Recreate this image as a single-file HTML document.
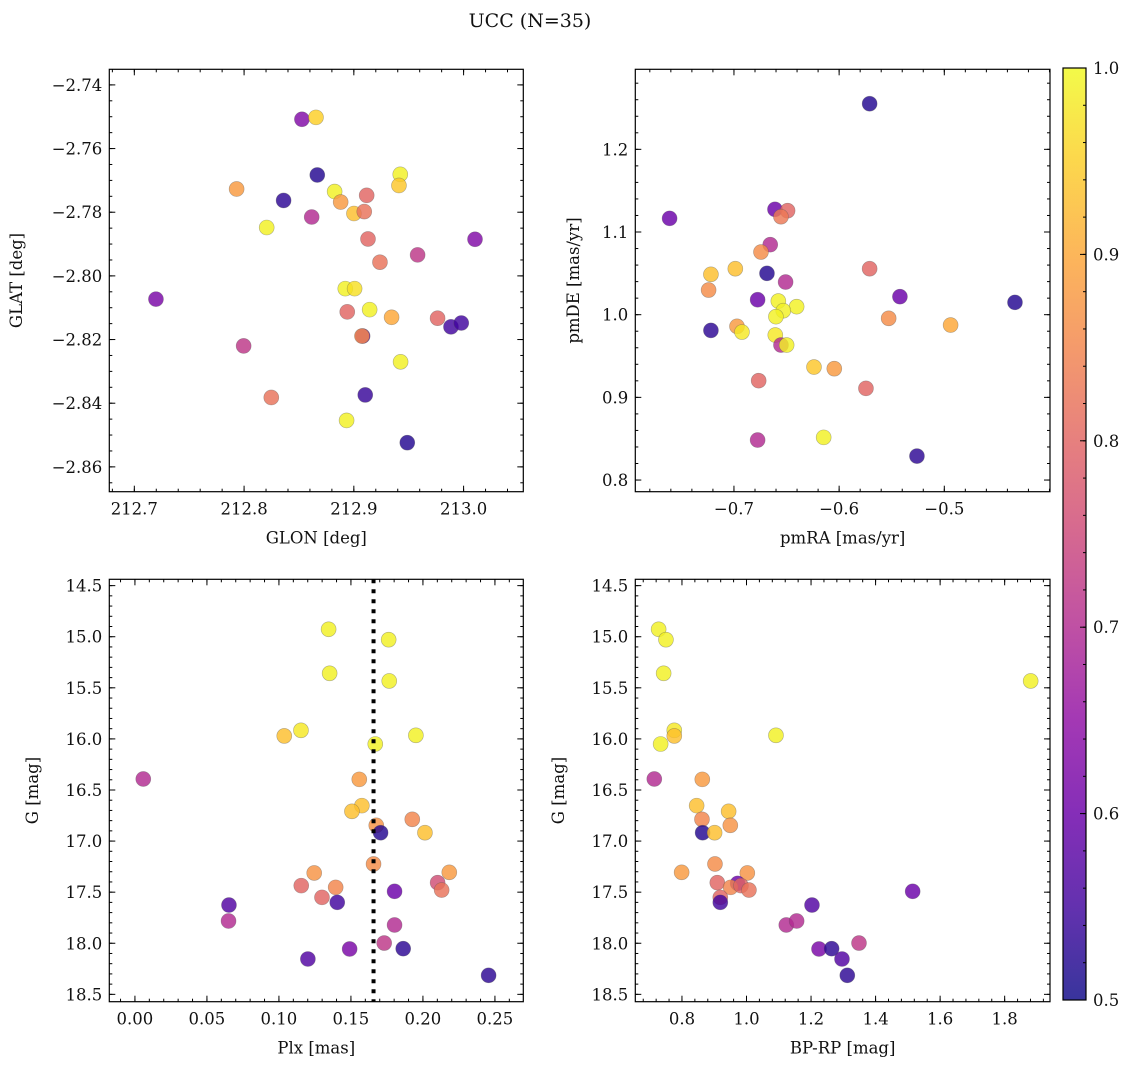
<!DOCTYPE html>
<html><head><meta charset="utf-8"><style>
body{margin:0;background:#fff}
svg text{font-family:"DejaVu Serif","Liberation Serif",serif;fill:#111}
</style></head><body>
<svg id="fig" width="1136" height="1068" viewBox="0 0 1136 1068" xmlns="http://www.w3.org/2000/svg">
<text x="530" y="27" font-size="19" text-anchor="middle">UCC (N=35)</text>
</svg>
<script>
// ---- data ----
const glon=[212.8527,212.8655,212.8667,212.7932,212.8360,212.8616,212.8206,212.8825,212.8880,212.9001,212.9095,212.9117,212.9129,212.9423,212.9411,212.9238,212.9581,213.0104,212.7197,212.8922,212.9007,212.8940,212.9144,212.9344,212.9763,212.9885,212.9979,212.9080,212.9074,212.7996,212.9426,212.8248,212.9104,212.8934,212.9487];
const glat=[-2.7508,-2.7502,-2.7683,-2.7727,-2.7763,-2.7815,-2.7848,-2.7735,-2.7768,-2.7804,-2.7798,-2.7747,-2.7884,-2.7681,-2.7716,-2.7957,-2.7934,-2.7885,-2.8073,-2.8040,-2.8040,-2.8113,-2.8106,-2.8130,-2.8133,-2.8160,-2.8148,-2.8189,-2.8189,-2.8220,-2.8270,-2.8382,-2.8374,-2.8454,-2.8524];
const probA=[0.63,0.95,0.52,0.88,0.53,0.7,0.99,0.99,0.88,0.93,0.82,0.8,0.8,0.99,0.94,0.82,0.72,0.63,0.62,0.99,0.97,0.8,0.99,0.9,0.8,0.55,0.55,0.6,0.86,0.72,0.99,0.82,0.54,0.99,0.52];
const pmra=[-0.7612,-0.6610,-0.6490,-0.6553,-0.6655,-0.6743,-0.7219,-0.6987,-0.6686,-0.7241,-0.6509,-0.6775,-0.6578,-0.6404,-0.6531,-0.6601,-0.7219,-0.6971,-0.6924,-0.6607,-0.6553,-0.6499,-0.5710,-0.5710,-0.5422,-0.4328,-0.5529,-0.4940,-0.6239,-0.6046,-0.6765,-0.5745,-0.6775,-0.6147,-0.5260];
const pmde=[1.1165,1.1274,1.1258,1.1185,1.0847,1.0758,1.0488,1.0556,1.0500,1.0298,1.0395,1.0181,1.0165,1.0097,1.0048,0.9976,0.9810,0.9859,0.9790,0.9754,0.9633,0.9633,1.2552,1.0556,1.0218,1.0149,0.9956,0.9875,0.9367,0.9347,0.9202,0.9109,0.8484,0.8516,0.8290];
const probB=[0.6,0.6,0.8,0.83,0.7,0.86,0.93,0.93,0.52,0.86,0.7,0.6,0.99,0.99,0.99,0.99,0.53,0.88,0.98,0.98,0.7,0.99,0.52,0.8,0.6,0.52,0.86,0.9,0.94,0.88,0.8,0.8,0.7,0.99,0.53];
const plx=[0.1345,0.1762,0.1352,0.1766,0.1153,0.1037,0.1951,0.1669,0.0058,0.1558,0.1576,0.1507,0.1926,0.1676,0.1706,0.2014,0.1657,0.1245,0.2183,0.1155,0.1394,0.1299,0.2102,0.2130,0.1803,0.0653,0.1405,0.0650,0.1803,0.1731,0.1491,0.1863,0.1201,0.2456];
const gmagC=[14.927,15.029,15.358,15.433,15.916,15.971,15.965,16.050,16.392,16.396,16.653,16.709,16.787,16.846,16.918,16.918,17.224,17.312,17.306,17.436,17.453,17.551,17.407,17.479,17.492,17.626,17.600,17.782,17.821,17.998,18.056,18.053,18.154,18.314];
const probC=[0.99,0.99,0.99,0.99,0.98,0.93,0.99,0.99,0.7,0.88,0.93,0.93,0.85,0.87,0.52,0.93,0.86,0.87,0.88,0.8,0.85,0.8,0.76,0.82,0.6,0.57,0.55,0.7,0.7,0.72,0.62,0.53,0.57,0.53];
const bprp=[0.7277,0.7504,0.7432,1.8806,0.7762,0.7762,1.0913,0.7339,0.7143,0.8630,0.8455,0.9446,0.8620,0.9498,0.8640,0.9012,0.9023,1.0025,0.7990,0.9095,0.9725,0.9508,0.9829,1.0076,0.9188,0.9188,1.5149,1.2029,1.1233,1.1554,1.3486,1.2246,1.2638,1.2959,1.3124];
const gmagD=[14.927,15.029,15.358,15.433,15.916,15.971,15.965,16.050,16.392,16.396,16.653,16.709,16.787,16.846,16.918,16.918,17.224,17.312,17.306,17.407,17.414,17.453,17.436,17.479,17.551,17.600,17.492,17.626,17.821,17.782,17.998,18.056,18.053,18.154,18.314];
const probD=[0.99,0.99,0.99,0.99,0.98,0.93,0.99,0.99,0.7,0.88,0.93,0.93,0.85,0.87,0.52,0.93,0.86,0.87,0.88,0.8,0.6,0.85,0.8,0.82,0.8,0.55,0.6,0.57,0.7,0.7,0.72,0.62,0.53,0.57,0.53];
const plxLine=0.1657;
const cbTicks=[0.5,0.6,0.7,0.8,0.9,1.0];

const NS="http://www.w3.org/2000/svg";
const svg=document.getElementById('fig');
function mk(tag,attrs,parent){const e=document.createElementNS(NS,tag);for(const k in attrs)e.setAttribute(k,attrs[k]);(parent||svg).appendChild(e);return e;}
const stops=['#0d0887','#41049d','#6a00a8','#8f0da4','#b12a90','#cc4778','#e16462','#f2844b','#fca636','#fcce25','#f0f921'];
function hex(h){return [1,3,5].map(i=>parseInt(h.substr(i,2),16));}
function plasma(p){let t=Math.max(0,Math.min(1,(p-0.5)/0.5))*10;const i=Math.min(9,Math.floor(t));const f=t-i;const a=hex(stops[i]),b=hex(stops[i+1]);return 'rgb('+a.map((v,k)=>Math.round(v+(b[k]-v)*f)).join(',')+')';}

const FS=16.5;
function panel(cfg){
  const g=mk('g',{});
  
  
  const {L,R,T,B,x0,x1,y0,y1}=cfg;
  const sx=v=>L+(v-x0)/(x1-x0)*(R-L);
  const sy=v=>T+(v-y0)/(y1-y0)*(B-T);
  const pg=mk('g',{},g);
  
  
  cfg.xs.forEach((xv,i)=>{
    const c=mk('circle',{cx:sx(xv),cy:sy(cfg.ys[i]),r:7.5,fill:plasma(cfg.ps[i]),'fill-opacity':0.82,stroke:'#555','stroke-opacity':0.45,'stroke-width':0.6},pg);
    
    
  });
  if(cfg.vline!==undefined){
    const l=mk('line',{x1:sx(cfg.vline),x2:sx(cfg.vline),y1:T,y2:B,stroke:'#000','stroke-width':4,'stroke-dasharray':'4 6'},g);
    
    
  }
  const tk=mk('g',{stroke:'#000','stroke-width':1},g);
  const eps=1e-9;
  function range(a,b,s){const r=[];let st=Math.ceil(Math.min(a,b)/s-eps);for(let k=st;k*s<=Math.max(a,b)+eps;k++)r.push(k*s);return r;}
  range(x0,x1,cfg.xminor).forEach(v=>{const X=sx(v);mk('line',{x1:X,x2:X,y1:B,y2:B-3},tk);mk('line',{x1:X,x2:X,y1:T,y2:T+3},tk);});
  range(y0,y1,cfg.yminor).forEach(v=>{const Y=sy(v);mk('line',{x1:L,x2:L+3,y1:Y,y2:Y},tk);mk('line',{x1:R,x2:R-3,y1:Y,y2:Y},tk);});
  cfg.xticks.forEach(v=>{const X=sx(v);mk('line',{x1:X,x2:X,y1:B,y2:B-6},tk);mk('line',{x1:X,x2:X,y1:T,y2:T+6},tk);
    const t=mk('text',{x:X,y:B+23,'font-size':FS,'text-anchor':'middle'},g);t.textContent=(v<0?'\u2212':'')+Math.abs(v).toFixed(cfg.xdec);
    });
  cfg.yticks.forEach(v=>{const Y=sy(v);mk('line',{x1:L,x2:L+6,y1:Y,y2:Y},tk);mk('line',{x1:R,x2:R-6,y1:Y,y2:Y},tk);
    const t=mk('text',{x:L-7,y:Y+6,'font-size':FS,'text-anchor':'end'},g);t.textContent=(v<0?'\u2212':'')+Math.abs(v).toFixed(cfg.ydec);
    });
  const fr=mk('rect',{x:L,y:T,width:R-L,height:B-T,fill:'none',stroke:'#000','stroke-width':1.2},g);
  
  const xl=mk('text',{x:(L+R)/2,y:B+52,'font-size':FS,'text-anchor':'middle'},g);xl.textContent=cfg.xlabel;
  
  const yx=cfg.ylabelX, yy=(T+B)/2;
  const yl=mk('text',{x:yx,y:yy,'font-size':FS,'text-anchor':'middle',transform:'rotate(-90 '+yx+' '+yy+')'},g);yl.textContent=cfg.ylabel;
  
}
function rng(a,b,s){const r=[];for(let v=a;v<=b+1e-9;v+=s)r.push(+v.toFixed(6));return r;}
panel({name:'glon-glat-panel',L:109.3,R:523.3,T:69.3,B:491.7,x0:212.6772,x1:213.0544,y0:-2.7351,y1:-2.8678,
  xs:glon,ys:glat,ps:probA,xticks:rng(212.7,213.0,0.1),yticks:[-2.74,-2.76,-2.78,-2.80,-2.82,-2.84,-2.86],xminor:0.02,yminor:0.005,xdec:1,ydec:2,
  xlabel:'GLON [deg]',ylabel:'GLAT [deg]',ylabelX:22});
panel({name:'pmra-pmde-panel',L:635.3,R:1050,T:69.3,B:491.7,x0:-0.7938,x1:-0.3995,y0:1.2968,y1:0.7859,
  xs:pmra,ys:pmde,ps:probB,xticks:[-0.7,-0.6,-0.5],yticks:[0.8,0.9,1.0,1.1,1.2],xminor:0.02,yminor:0.02,xdec:1,ydec:1,
  xlabel:'pmRA [mas/yr]',ylabel:'pmDE [mas/yr]',ylabelX:579});
panel({name:'plx-g-panel',L:109.3,R:523.3,T:579.3,B:1001.7,x0:-0.0178,x1:0.2697,y0:14.438,y1:18.572,
  xs:plx,ys:gmagC,ps:probC,vline:plxLine,xticks:rng(0,0.25,0.05),yticks:rng(14.5,18.5,0.5),xminor:0.01,yminor:0.1,xdec:2,ydec:1,
  xlabel:'Plx [mas]',ylabel:'G [mag]',ylabelX:38});
panel({name:'color-magnitude-panel',L:635.3,R:1050,T:579.3,B:1001.7,x0:0.6554,x1:1.9405,y0:14.438,y1:18.572,
  xs:bprp,ys:gmagD,ps:probD,xticks:rng(0.8,1.8,0.2),yticks:rng(14.5,18.5,0.5),xminor:0.04,yminor:0.1,xdec:1,ydec:1,
  xlabel:'BP-RP [mag]',ylabel:'G [mag]',ylabelX:564});

const cb=mk('g',{});


const CL=1063,CR=1086,CT=68,CB=1000;
const defs=mk('defs',{},cb);
const lg=mk('linearGradient',{id:'pl',x1:0,y1:1,x2:0,y2:0},defs);
stops.forEach((s,i)=>mk('stop',{offset:i/10,'stop-color':s},lg));
mk('rect',{x:CL,y:CT,width:CR-CL,height:CB-CT,fill:'url(#pl)','fill-opacity':0.82},cb);
mk('rect',{x:CL,y:CT,width:CR-CL,height:CB-CT,fill:'none',stroke:'#000','stroke-width':1.2},cb);
const cy=v=>CB-(v-0.5)/0.5*(CB-CT);
for(let v=0.5;v<=1.0001;v+=0.02){mk('line',{x1:CR,x2:CR-3,y1:cy(v),y2:cy(v),stroke:'#000'},cb);}
cbTicks.forEach(v=>{mk('line',{x1:CR,x2:CR-6,y1:cy(v),y2:cy(v),stroke:'#000'},cb);
  const t=mk('text',{x:CR+7,y:cy(v)+6,'font-size':FS},cb);t.textContent=v.toFixed(1);
  });
</script>
</body></html>
